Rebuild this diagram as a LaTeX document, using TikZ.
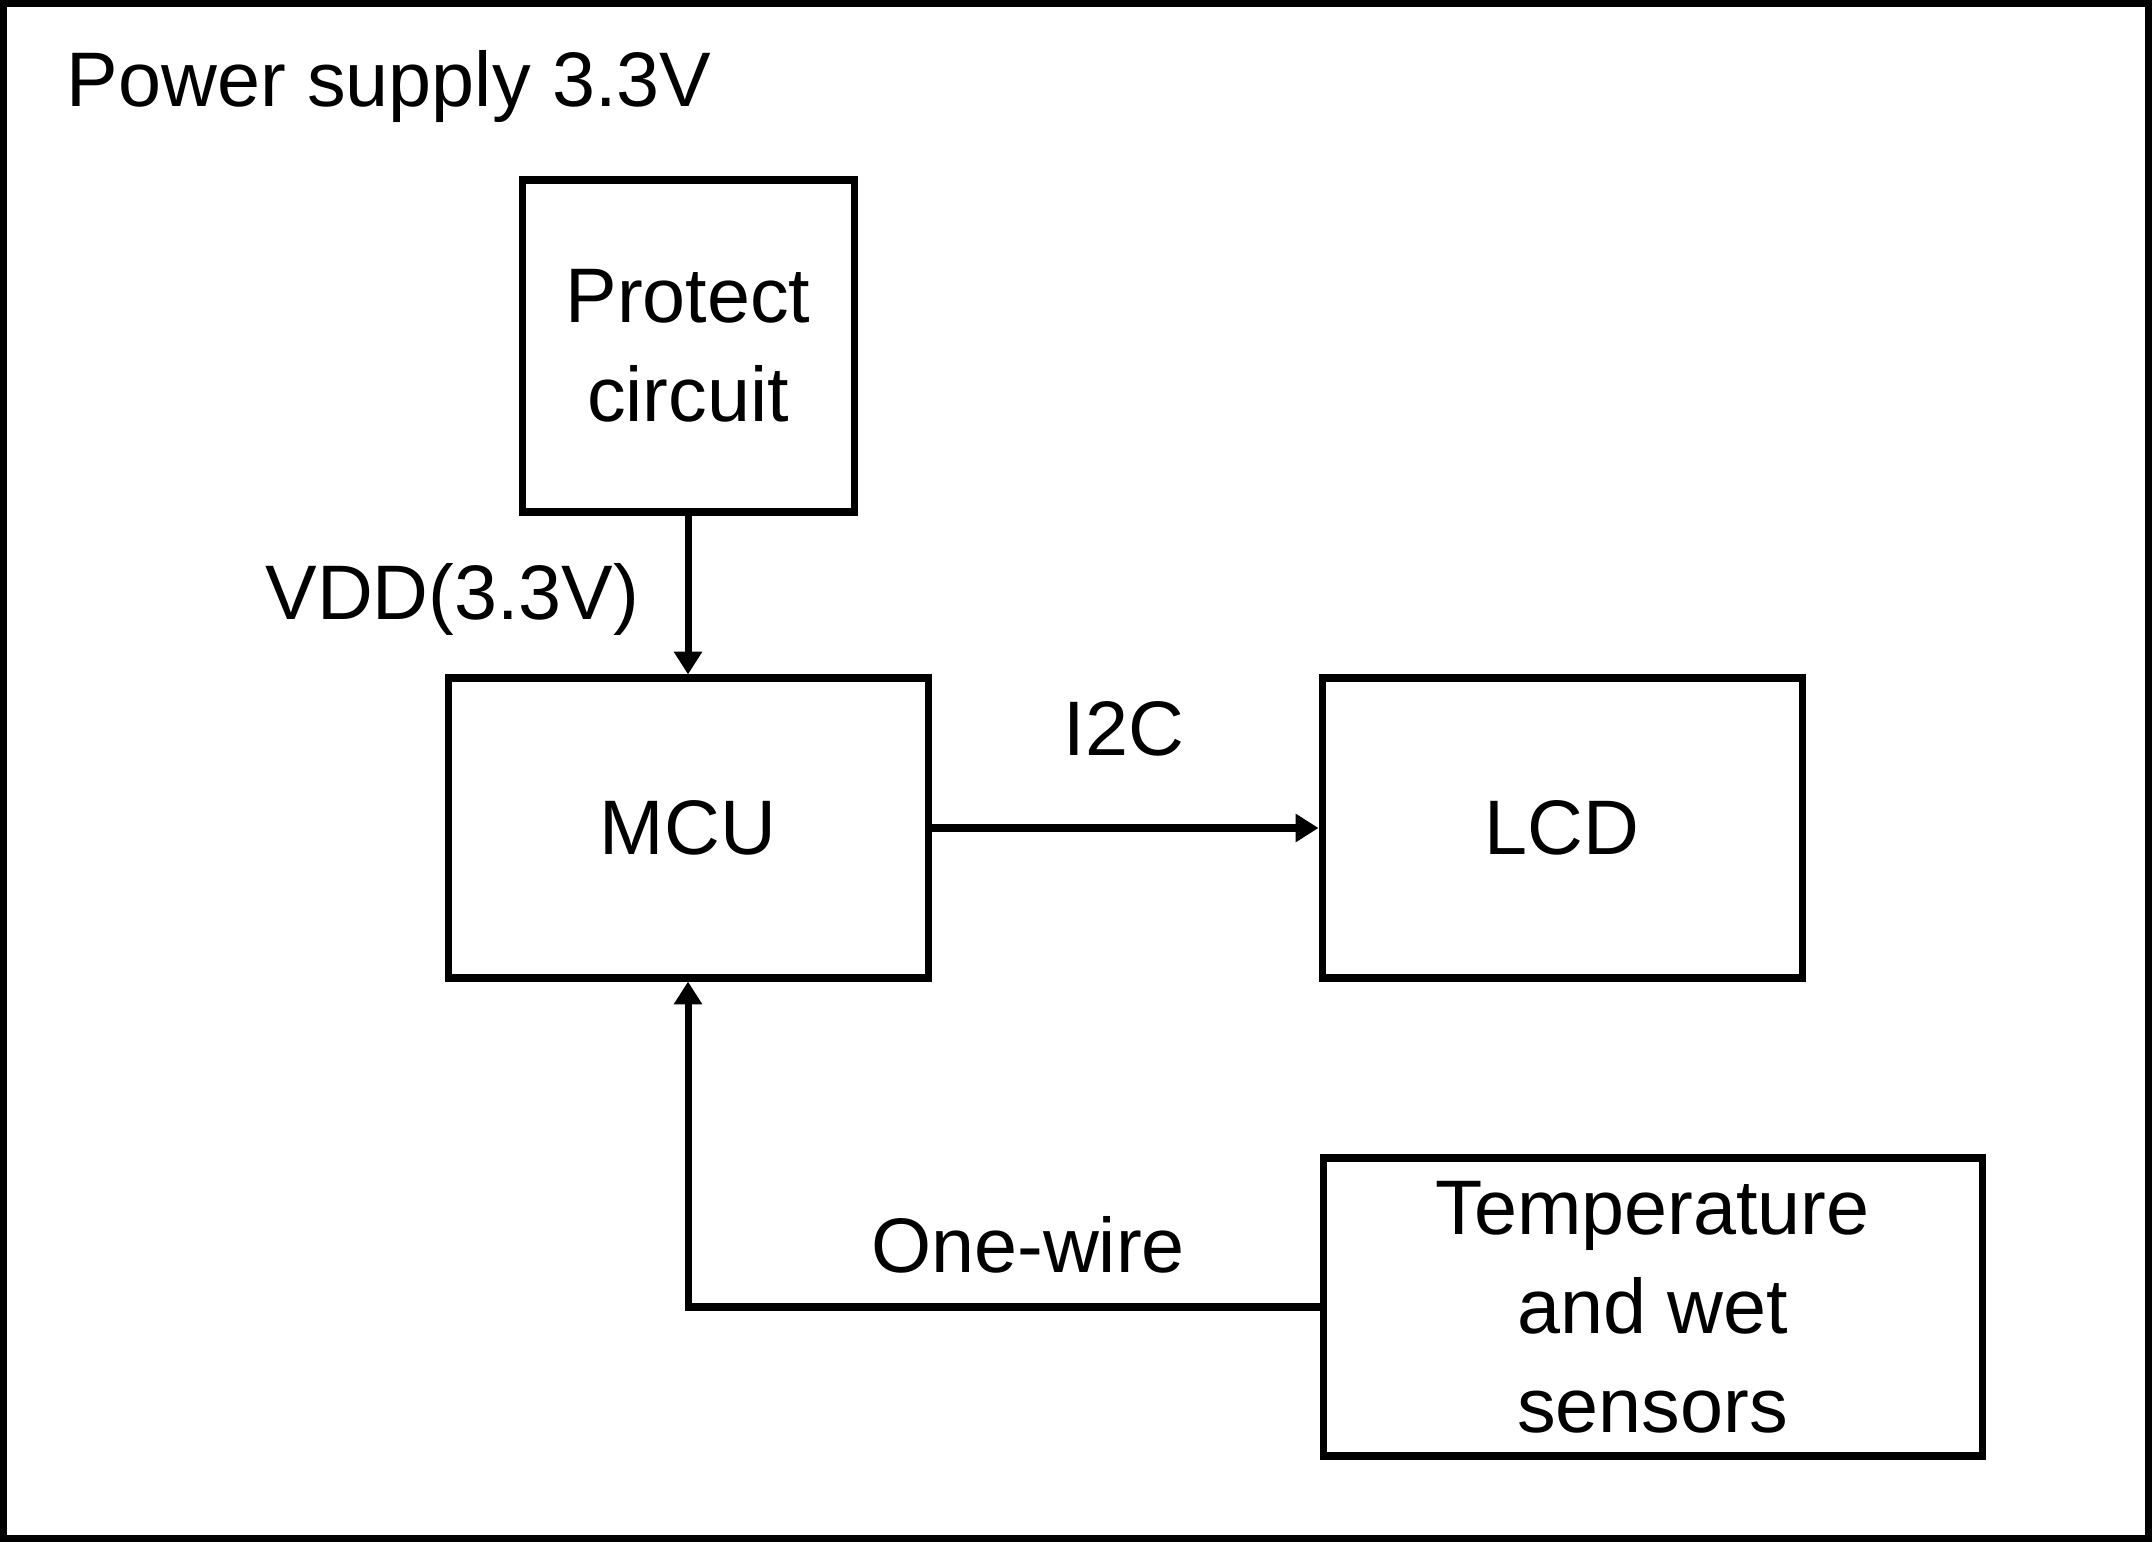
\documentclass[tikz,border=0pt]{standalone}
\usepackage{fontspec}
\setmainfont{Liberation Sans}
\usetikzlibrary{arrows.meta}

\tikzset{
    blockbox/.style={draw, line width=2pt, rectangle, align=center, inner sep=0pt},
    link/.style={line width=2pt, -{Triangle[length=6.5pt, width=7.7pt]}},
    lbl/.style={inner sep=0pt}
}

\begin{document}
\begin{tikzpicture}[font=\fontsize{22pt}{28.2pt}\selectfont]

    % Frame (power supply area)
    \draw[line width=2pt] (0.035, 0.035) rectangle (21.485, 15.385);
    \useasboundingbox (0, 0) rectangle (21.52, 15.42);
    \node[lbl, anchor=base west] (supply) at (0.66, 14.35) {Power supply 3.3V};

    % Blocks
    \node[blockbox, minimum width=3.32cm, minimum height=3.32cm] (protect) at (6.88, 11.96) {Protect\\circuit};
    \node[blockbox, minimum width=4.80cm, minimum height=3.00cm] (mcu) at (6.88, 7.14) {MCU};
    \node[blockbox, minimum width=4.80cm, minimum height=3.00cm] (lcd) at (15.62, 7.14) {LCD};
    \node[blockbox, minimum width=6.59cm, minimum height=2.98cm] (sensors) at (16.525, 2.35) {Temperature\\and wet\\sensors};

    % Protect circuit -> MCU
    \draw[link] (protect) -- (mcu);
    \node[lbl, anchor=base east] (vdd) at (6.40, 9.22) {VDD(3.3V)};

    % MCU -> LCD
    \draw[link] (mcu) -- (lcd);
    \node[lbl, anchor=base] (i2c) at (11.24, 7.86) {I2C};

    % Sensors -> MCU
    \draw[link] (sensors.west) -| (mcu.south);
    \node[lbl, anchor=base] (onewire) at (10.28, 2.70) {One-wire};

\end{tikzpicture}
\end{document}
